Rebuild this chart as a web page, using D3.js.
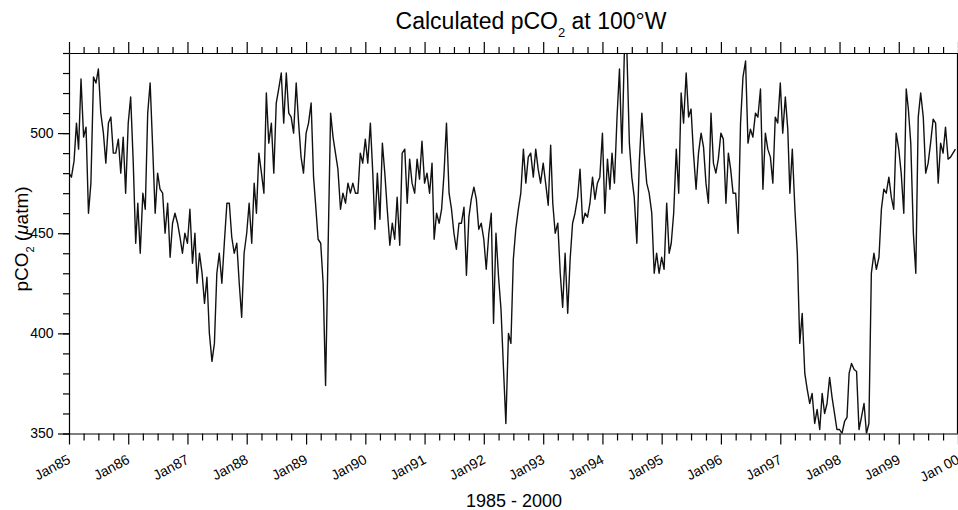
<!DOCTYPE html>
<html>
<head>
<meta charset="utf-8">
<script src="https://cdn.jsdelivr.net/npm/d3@7"></script>
<style>
  body { margin: 0; background: #fff; }
  svg { display: block; font-family: "Liberation Sans", Arial, Helvetica, sans-serif; }
</style>
</head>
<body>
<div id="chart"></div>
<script>
// Calculated pCO2 (uatm) at 100W, semi-monthly readings (1st and 16th of each month)
const pco2_1985 = [480, 478, 486, 505, 492, 527, 498, 503, 460, 475, 528, 525, 532, 510, 500, 485, 505, 508, 490, 490, 497, 480, 498, 470];
const pco2_1986 = [505, 518, 485, 445, 465, 440, 470, 462, 510, 525, 492, 460, 480, 472, 470, 450, 465, 438, 455, 460, 455, 448, 440, 450];
const pco2_1987 = [445, 462, 435, 450, 425, 440, 430, 415, 428, 400, 386, 395, 430, 440, 425, 445, 465, 465, 448, 440, 445, 425, 408, 440];
const pco2_1988 = [450, 465, 445, 475, 460, 490, 480, 470, 520, 495, 505, 480, 515, 522, 530, 505, 530, 510, 508, 500, 525, 505, 488, 480];
const pco2_1989 = [500, 505, 515, 478, 464, 447, 445, 425, 374, 440, 510, 498, 490, 482, 462, 470, 465, 475, 470, 475, 470, 470, 490, 485];
const pco2_1990 = [497, 485, 505, 480, 452, 480, 457, 495, 480, 462, 444, 455, 447, 468, 444, 490, 492, 465, 487, 475, 470, 487, 477, 496];
const pco2_1991 = [475, 480, 470, 485, 447, 460, 455, 462, 480, 505, 470, 462, 450, 442, 455, 455, 463, 429, 458, 467, 473, 467, 452, 455];
const pco2_1992 = [447, 432, 450, 460, 405, 450, 428, 412, 383, 355, 400, 395, 437, 452, 462, 470, 492, 475, 488, 490, 478, 492, 482, 475];
const pco2_1993 = [485, 475, 464, 494, 465, 450, 455, 430, 413, 440, 410, 437, 455, 460, 468, 482, 455, 460, 458, 465, 478, 467, 475, 478];
const pco2_1994 = [500, 460, 487, 472, 490, 475, 508, 532, 490, 540, 540, 495, 478, 468, 445, 485, 510, 490, 475, 470, 460, 430, 440, 430];
const pco2_1995 = [438, 432, 465, 440, 445, 460, 492, 470, 520, 505, 530, 508, 512, 490, 472, 490, 500, 493, 475, 465, 510, 485, 480, 487];
const pco2_1996 = [500, 497, 465, 490, 482, 470, 470, 450, 505, 528, 536, 495, 502, 498, 510, 508, 522, 472, 500, 492, 488, 475, 508, 505];
const pco2_1997 = [525, 500, 518, 502, 470, 492, 462, 440, 395, 410, 380, 372, 365, 370, 355, 362, 352, 370, 360, 365, 378, 368, 360, 352];
const pco2_1998 = [352, 350, 356, 358, 380, 385, 382, 381, 352, 358, 365, 350, 355, 430, 440, 432, 438, 462, 472, 470, 478, 468, 462, 500];
const pco2_1999 = [492, 480, 460, 522, 512, 495, 450, 430, 508, 520, 508, 480, 485, 495, 507, 505, 475, 495, 490, 503, 487, 488, 490, 492];

const years = [1985, 1986, 1987, 1988, 1989, 1990, 1991, 1992, 1993, 1994, 1995, 1996, 1997, 1998, 1999];
const yearLabels = ['Jan85', 'Jan86', 'Jan87', 'Jan88', 'Jan89', 'Jan90', 'Jan91', 'Jan92', 'Jan93', 'Jan94', 'Jan95', 'Jan96', 'Jan97', 'Jan98', 'Jan99', 'Jan 00'];
const yTickValues = [350, 400, 450, 500];

const drawChart = () => {
  const yearly = [pco2_1985, pco2_1986, pco2_1987, pco2_1988, pco2_1989, pco2_1990, pco2_1991, pco2_1992,
    pco2_1993, pco2_1994, pco2_1995, pco2_1996, pco2_1997, pco2_1998, pco2_1999];

  // Flatten to {date, value}, readings on the 1st and 16th
  const data = [];
  yearly.forEach((vals, yi) => {
    vals.forEach((v, k) => {
      data.push({ date: new Date(years[yi], Math.floor(k / 2), k % 2 ? 16 : 1), value: v });
    });
  });

  const width = 958;
  const height = 510;
  const left = 69;
  const right = 958;
  const top = 53;
  const bottom = 433.5;

  const svg = d3.select('#chart')
    .append('svg')
      .attr('width', width)
      .attr('height', height);

  const x = d3.scaleTime()
    .domain([new Date(1985, 0, 1), new Date(2000, 0, 1)])
    .range([left, right]);
  const y = d3.scaleLinear()
    .domain([350, 540])
    .range([bottom, top]);

  const yearTicks = d3.range(1985, 2001).map(yr => new Date(yr, 0, 1));
  const quarterTicks = d3.timeMonth.every(3).range(new Date(1985, 0, 1), new Date(2000, 0, 2))
    .filter(d => d.getMonth() !== 0);

  // Clip the series to the plot frame
  svg.append('clipPath')
      .attr('id', 'plot-clip')
    .append('rect')
      .attr('x', left)
      .attr('y', top)
      .attr('width', right - left)
      .attr('height', bottom - top);

  // Series line
  const line = d3.line()
    .x(d => x(d.date))
    .y(d => y(d.value));
  svg.append('path')
      .datum(data)
      .attr('clip-path', 'url(#plot-clip)')
      .attr('fill', 'none')
      .attr('stroke', '#111')
      .attr('stroke-width', 1.4)
      .attr('stroke-linejoin', 'round')
      .attr('d', line);

  const styleAxis = g => {
    g.selectAll('path, line').attr('stroke', '#000').attr('stroke-width', 1.2);
    g.selectAll('text').attr('fill', '#000').style('font-size', '14px');
  };

  // Bottom axis: minor quarterly ticks, then labelled years
  svg.append('g')
      .attr('transform', `translate(0,${bottom})`)
      .call(d3.axisBottom(x).tickValues(quarterTicks).tickSize(7).tickSizeOuter(0).tickFormat(''))
      .call(styleAxis);
  svg.append('g')
      .attr('transform', `translate(0,${bottom})`)
      .call(d3.axisBottom(x).tickValues(yearTicks).tickSize(11).tickSizeOuter(0).tickFormat((d, i) => yearLabels[i]))
      .call(styleAxis)
      .call(g => g.select('.domain').remove())
      .call(g => g.selectAll('text')
        .attr('x', 0)
        .attr('y', 0)
        .attr('dy', null)
        .attr('transform', 'translate(2,29) rotate(-28)')
        .style('text-anchor', 'end'));

  // Top axis, ticks only
  svg.append('g')
      .attr('transform', `translate(0,${top})`)
      .call(d3.axisTop(x).tickValues(quarterTicks).tickSize(6).tickSizeOuter(0).tickFormat(''))
      .call(styleAxis);
  svg.append('g')
      .attr('transform', `translate(0,${top})`)
      .call(d3.axisTop(x).tickValues(yearTicks).tickSize(11).tickSizeOuter(0).tickFormat(''))
      .call(styleAxis)
      .call(g => g.select('.domain').remove());

  // Left axis: minor every 10, labelled every 50
  svg.append('g')
      .attr('transform', `translate(${left},0)`)
      .call(d3.axisLeft(y).tickValues(d3.range(350, 541, 10)).tickSize(6).tickSizeOuter(0).tickFormat(''))
      .call(styleAxis);
  svg.append('g')
      .attr('transform', `translate(${left},0)`)
      .call(d3.axisLeft(y).tickValues(yTickValues).tickSize(11).tickPadding(4.5).tickFormat(d3.format('d')))
      .call(styleAxis)
      .call(g => g.select('.domain').remove());

  // Right frame line
  svg.append('line')
      .attr('x1', right - 0.5)
      .attr('x2', right - 0.5)
      .attr('y1', top)
      .attr('y2', bottom)
      .attr('stroke', '#000')
      .attr('stroke-width', 1.2);

  // Title
  const title = svg.append('text')
      .attr('x', 531)
      .attr('y', 29)
      .attr('text-anchor', 'middle')
      .style('font-size', '23px');
  title.append('tspan').text('Calculated pCO');
  title.append('tspan').attr('baseline-shift', 'sub').style('font-size', '13px').text('2');
  title.append('tspan').text(' at 100°W');

  // Y label
  const yLabel = svg.append('text')
      .attr('transform', 'translate(28,239) rotate(-90)')
      .attr('text-anchor', 'middle')
      .style('font-size', '19px');
  yLabel.append('tspan').text('pCO');
  yLabel.append('tspan').attr('baseline-shift', 'sub').style('font-size', '11px').text('2');
  yLabel.append('tspan').text(' (');
  yLabel.append('tspan').style('font-style', 'italic').text('μ');
  yLabel.append('tspan').text('atm)');

  // X label
  svg.append('text')
      .attr('x', 514)
      .attr('y', 507)
      .attr('text-anchor', 'middle')
      .style('font-size', '18px')
      .text('1985 - 2000');
};

drawChart();
</script>
</body>
</html>
